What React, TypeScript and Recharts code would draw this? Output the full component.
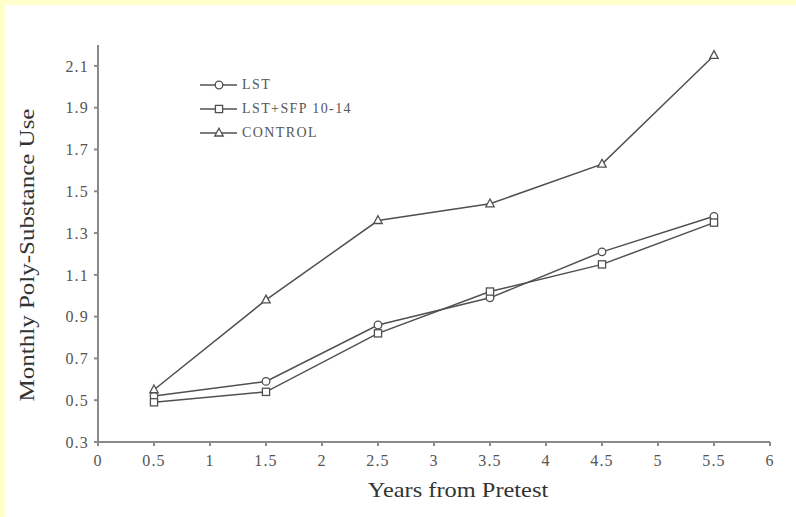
import React from 'react'
import { LineChart, Line, XAxis, YAxis, Legend } from 'recharts'

const years = [0.5, 1.5, 2.5, 3.5, 4.5, 5.5]
const lst = [0.52, 0.59, 0.86, 0.99, 1.21, 1.38]
const lstSfp = [0.49, 0.54, 0.82, 1.02, 1.15, 1.35]
const control = [0.55, 0.98, 1.36, 1.44, 1.63, 2.15]

const xTicks = [0, 0.5, 1, 1.5, 2, 2.5, 3, 3.5, 4, 4.5, 5, 5.5, 6]
const yTicks = [0.3, 0.5, 0.7, 0.9, 1.1, 1.3, 1.5, 1.7, 1.9, 2.1]

const data = years.map((x, i) => ({ x, lst: lst[i], lstSfp: lstSfp[i], control: control[i] }))

const INK = '#505050'
const AXIS = '#8a8a8a'
const TEXT = '#555'
const FONT = '"Liberation Serif", "DejaVu Serif", serif'

type Shape = 'circle' | 'square' | 'triangle'

function Marker({ cx, cy, shape }: { cx: number; cy: number; shape: Shape }) {
  if (shape === 'circle') return <circle cx={cx} cy={cy} r={3.8} fill="#fff" stroke={INK} strokeWidth={1.3} />
  if (shape === 'square') return <rect x={cx - 3.6} y={cy - 3.6} width={7.2} height={7.2} fill="#fff" stroke={INK} strokeWidth={1.3} />
  return <polygon points={`${cx},${cy - 4.8} ${cx + 4.2},${cy + 3} ${cx - 4.2},${cy + 3}`} fill="#fff" stroke={INK} strokeWidth={1.3} />
}

const SERIES: { key: string; name: string; shape: Shape }[] = [
  { key: 'lst', name: 'LST', shape: 'circle' },
  { key: 'lstSfp', name: 'LST+SFP 10-14', shape: 'square' },
  { key: 'control', name: 'CONTROL', shape: 'triangle' },
]

function LegendBox() {
  return (
    <div style={{ fontFamily: FONT, fontSize: 14, letterSpacing: 1.4, color: TEXT }}>
      {SERIES.map((s) => (
        <div key={s.key} style={{ display: 'flex', alignItems: 'center', height: 24 }}>
          <svg width={37} height={12}>
            <line x1={0} y1={6} x2={37} y2={6} stroke={INK} strokeWidth={1.5} />
            <Marker cx={19} cy={6} shape={s.shape} />
          </svg>
          <span style={{ marginLeft: 5 }}>{s.name}</span>
        </div>
      ))}
    </div>
  )
}

const tickStyle = { fill: TEXT, fontSize: 16, fontFamily: FONT, letterSpacing: 1.2 }

export default function App() {
  return (
    <div style={{ position: 'absolute', left: 0, top: 0, width: 796, height: 517, background: '#ffffcc' }}>
      <div style={{ position: 'absolute', left: 5, top: 5, width: 791, height: 512, background: '#fff' }}>
        <LineChart width={791} height={512} data={data} margin={{ top: 40, right: 26, left: 43, bottom: 40 }}>
          <XAxis
            dataKey="x"
            type="number"
            domain={[0, 6]}
            ticks={xTicks}
            tickFormatter={(v: number) => String(v)}
            stroke={AXIS}
            strokeWidth={2}
            tickSize={4}
            tickMargin={9}
            tick={tickStyle}
            height={35}
            label={{
              content: () => (
                <text
                  transform="translate(453,485) scale(1.22,1)"
                  textAnchor="middle"
                  dominantBaseline="central"
                  fill="#333"
                  fontSize={20}
                  fontFamily={FONT}
                >
                  Years from Pretest
                </text>
              ),
            }}
          />
          <YAxis
            type="number"
            domain={[0.3, 2.2]}
            ticks={yTicks}
            tickFormatter={(v: number) => v.toFixed(1)}
            stroke={AXIS}
            strokeWidth={2}
            tickSize={4}
            tickMargin={5}
            width={50}
            tick={tickStyle}
            label={{
              content: () => (
                <text
                  transform="translate(22,250) scale(1,1.25) rotate(-90)"
                  textAnchor="middle"
                  dominantBaseline="central"
                  fill="#333"
                  fontSize={20}
                  fontFamily={FONT}
                >
                  Monthly Poly-Substance Use
                </text>
              ),
            }}
          />
          <Legend
            layout="vertical"
            align="center"
            verticalAlign="middle"
            content={() => <LegendBox />}
            wrapperStyle={{ left: 195, top: 68, width: 220 }}
          />
          {SERIES.map((s) => (
            <Line
              key={s.key}
              dataKey={s.key}
              name={s.name}
              stroke={INK}
              strokeWidth={1.5}
              isAnimationActive={false}
              dot={(p: any) => <Marker key={`${s.key}-${p.index}`} cx={p.cx} cy={p.cy} shape={s.shape} />}
            />
          ))}
        </LineChart>
      </div>
    </div>
  )
}
